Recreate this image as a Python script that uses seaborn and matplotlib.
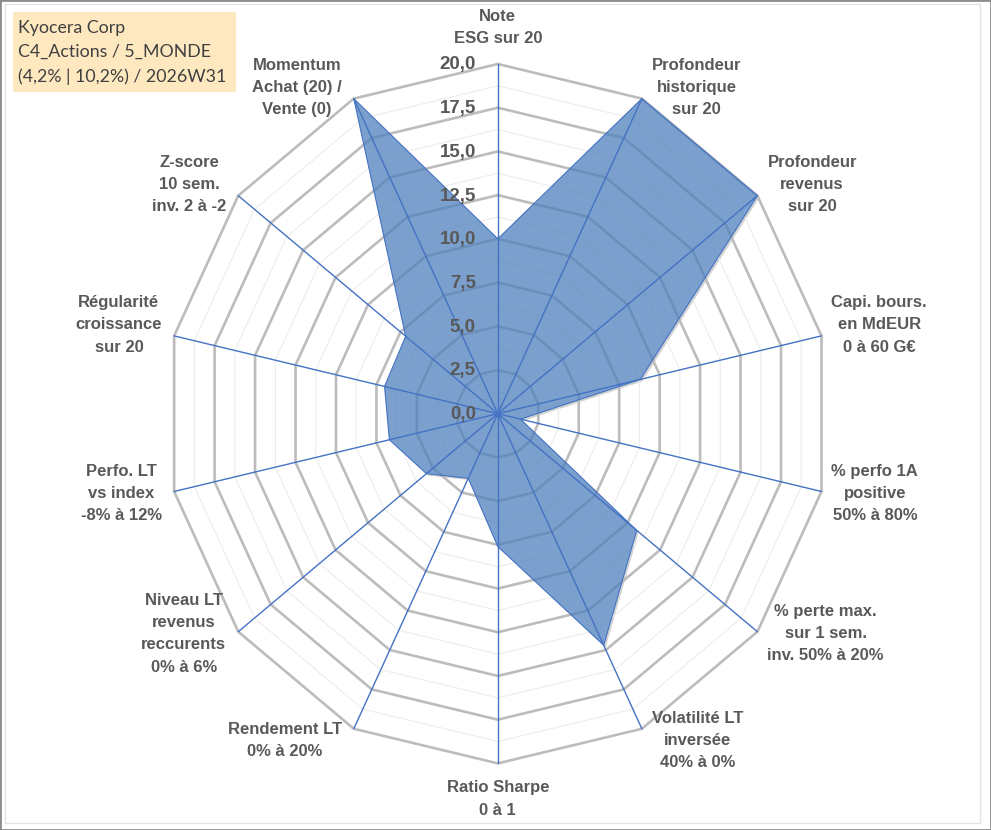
import numpy as np
import pandas as pd
import matplotlib.pyplot as plt
import matplotlib.transforms as mtransforms
from matplotlib.patches import Rectangle
import seaborn as sns

# radar axes, clockwise from the top
axis_labels = [
    "Note\nESG sur 20",
    "Profondeur\nhistorique\nsur 20",
    "Profondeur\nrevenus\nsur 20",
    "Capi. bours.\nen MdEUR\n0 à 60 G€",
    "% perfo 1A\npositive\n50% à 80%",
    "% perte max.\nsur 1 sem.\ninv. 50% à 20%",
    "Volatilité LT\ninversée\n40% à 0%",
    "Ratio Sharpe\n0 à 1",
    "Rendement LT\n0% à 20%",
    "Niveau LT\nrevenus\nreccurents\n0% à 6%",
    "Perfo. LT\nvs index\n-8% à 12%",
    "Régularité\ncroissance\nsur 20",
    "Z-score\n10 sem.\ninv. 2 à -2",
    "Momentum\nAchat (20) /\nVente (0)",
]
scores = [10, 20, 20, 8.8, 1.4, 10.7, 14.7, 7.6, 4.1, 5.5, 6.7, 7.0, 7.1, 20]

ring_values = [0, 2.5, 5, 7.5, 10, 12.5, 15, 17.5, 20]
tick_labels = ["0,0", "2,5", "5,0", "7,5", "10,0", "12,5", "15,0", "17,5", "20,0"]
minor_rings = [1.25, 3.75, 6.25, 8.75, 11.25, 13.75, 16.25, 18.75]

title_lines = ["Kyocera Corp", "C4_Actions / 5_MONDE", "(4,2% | 10,2%) / 2026W31"]

r_max = 20
text_color = "#595959"
spoke_color = "#4472c4"

sns.set_theme(style="white")
plt.rcParams['font.family'] = ['Liberation Sans', 'DejaVu Sans']

n = len(axis_labels)
theta = np.arange(n) * 2 * np.pi / n
sin_t, cos_t = np.sin(theta), np.cos(theta)

df = pd.DataFrame({"axis": axis_labels, "score": scores})
df["x"] = df["score"] * sin_t
df["y"] = df["score"] * cos_t
closed = pd.concat([df, df.iloc[[0]]], ignore_index=True)

fig = plt.figure(figsize=(9.91, 8.30), dpi=100)
ax = fig.add_axes([0, 0, 1, 1])

def ring(r):
    xs = np.append(r * sin_t, r * sin_t[0])
    ys = np.append(r * cos_t, r * cos_t[0])
    return xs, ys

# shadow of the series, masked inside by a white copy
shadow_tr = mtransforms.offset_copy(ax.transData, fig=fig, x=2, y=-2, units='dots')
ax.fill(closed["x"], closed["y"], color="#9a9a9a", alpha=0.45, lw=0,
        transform=shadow_tr, zorder=0.5)
ax.fill(closed["x"], closed["y"], color="white", lw=0, zorder=0.6)

for r in minor_rings:
    xs, ys = ring(r)
    ax.plot(xs, ys, color="#ececec", lw=0.8, zorder=0.8)
for r in ring_values[1:]:
    xs, ys = ring(r)
    ax.plot(xs, ys, color="#bcbcbc", lw=1.9, zorder=1, solid_joinstyle='miter')

ax.fill(closed["x"], closed["y"], color="#4f81bd", alpha=0.75, lw=0, zorder=2)
sns.lineplot(data=closed, x="x", y="y", sort=False, estimator=None,
             color=spoke_color, lw=0.8, ax=ax, zorder=2.5)

for s, c in zip(sin_t, cos_t):
    ax.plot([0, r_max * s], [0, r_max * c], color=spoke_color, lw=1.0, zorder=3)
ax.plot(0, 0, 'o', color=spoke_color, ms=3, zorder=3)

for v, lab in zip(ring_values, tick_labels):
    ax.annotate(lab, xy=(0, v), xytext=(-22, -1), textcoords='offset pixels',
                ha='right', va='center', fontsize=13.5, fontweight='bold',
                color=text_color, zorder=4)

for lab, s, c in zip(axis_labels, sin_t, cos_t):
    if abs(s) < 0.01:
        ha = 'center'
        va, off = ('bottom', (0, 18)) if c > 0 else ('top', (0, -17))
    else:
        ha = 'left' if s > 0 else 'right'
        dx = 10 if s > 0 else -12
        dy = 11 if c > 0.1 else (-12 if c < -0.85 else -2)
        va, off = 'center', (dx, dy)
    ax.annotate(lab, xy=(r_max * s, r_max * c), xytext=off, textcoords='offset pixels',
                ha=ha, va=va, multialignment='center', linespacing=1.6,
                fontsize=12, fontweight='bold', color=text_color, zorder=4)

ax.set_xlim(-29.99, 29.71)
ax.set_ylim(-23.81, 23.66)
ax.axis('off')

# title box
fig.patches.append(Rectangle((13 / 991, 1 - 92 / 830), 223 / 991, 80 / 830,
                             transform=fig.transFigure, color="#fde8c0", lw=0, zorder=0))
fig.text(18 / 991, 1 - 20 / 830, "\n".join(title_lines), family=['Lato', 'DejaVu Sans'],
         fontsize=12.8, color="#404040", ha='left', va='top', linespacing=1.62)

# chart frame
fig.patches.append(Rectangle((0, 0), 1, 1, transform=fig.transFigure, fill=False,
                             ec="#8c8c8c", lw=2))
fig.patches.append(Rectangle((5 / 991, 7 / 830), 975 / 991, 819 / 830,
                             transform=fig.transFigure, fill=False, ec="#e3e3e3", lw=1))

fig.savefig("out.png", dpi=100)
